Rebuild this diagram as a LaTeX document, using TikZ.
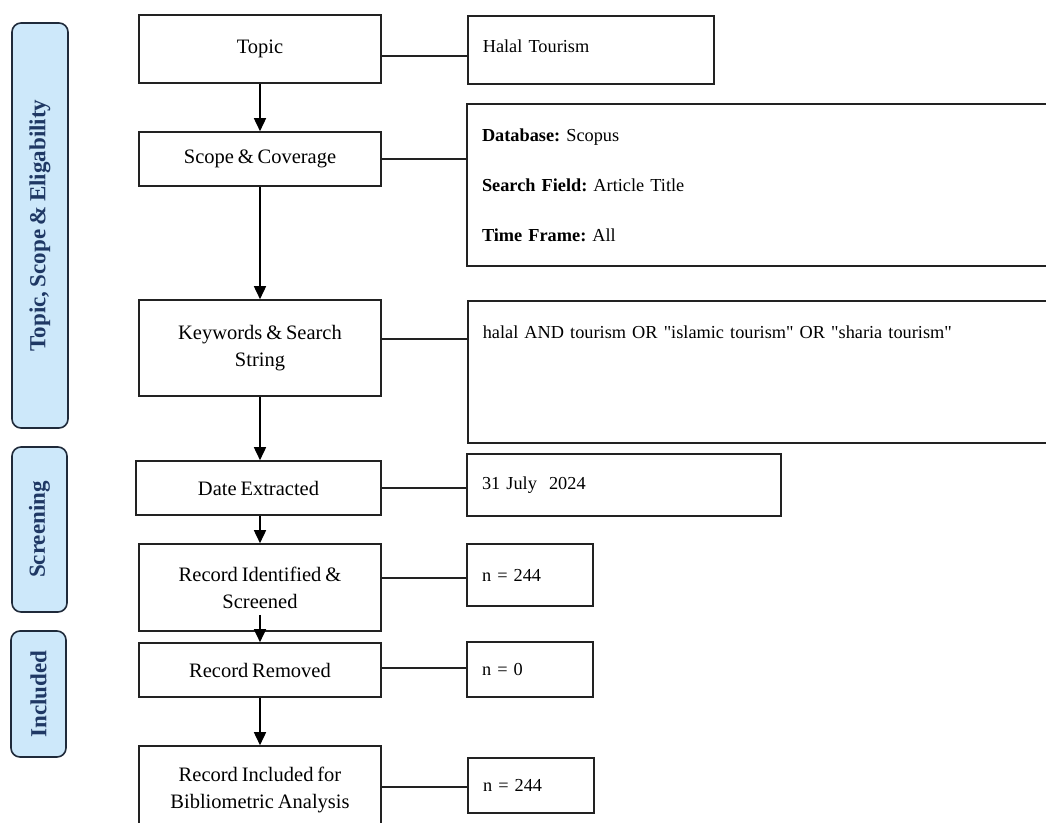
\documentclass[tikz,border=0pt]{standalone}
\usepackage{fontspec}
\setmainfont{Liberation Serif}[WordSpace=0.75]
\newfontfamily\plainquotes{Liberation Serif}[Ligatures=TeXOff, WordSpace=0.75]
\usetikzlibrary{arrows.meta}
\definecolor{sidefill}{HTML}{CDE8FA}
\definecolor{sidetext}{HTML}{1F3864}
\definecolor{sideline}{HTML}{1F2A3A}
\definecolor{boxline}{HTML}{222222}
\tikzset{
  leftbox/.style={draw=boxline, line width=1.6pt, rectangle, minimum width=242pt, align=center, inner sep=2pt, font=\fontsize{20.5}{27}\selectfont},
  rightbox/.style={draw=boxline, line width=1.6pt, rectangle, align=left, inner xsep=15pt, inner ysep=0pt, font=\fontsize{18.3}{22}\selectfont},
  sidebox/.style={draw=sideline, line width=1.6pt, fill=sidefill, rounded corners=9pt, rectangle, rotate=90, text=sidetext, font=\fontsize{23}{26}\selectfont\bfseries, inner sep=0pt},
  flowarrow/.style={line width=1.6pt, draw=black, -{Triangle[length=13pt,width=12pt]}},
  link/.style={line width=1.6pt, draw=boxline}
}
\begin{document}
\frenchspacing
\begin{tikzpicture}[x=1pt,y=-1pt]
\useasboundingbox (0,0) rectangle (1046,822);
\begin{scope}
\clip (0,0) rectangle (1046,822);
% side labels
\node[sidebox, minimum width=405pt, minimum height=56pt] (s1) at (40,225.5) {Topic, Scope \& Eligability};
\node[sidebox, minimum width=165pt, minimum height=55pt] (s2) at (39.5,529.5) {Screening};
\node[sidebox, minimum width=126pt, minimum height=55pt] (s3) at (38.5,694) {Included};
% left column
\node[leftbox, minimum height=68pt] (topic) at (260,49) {Topic};
\node[leftbox, minimum height=54pt] (scope) at (260,159) {Scope \& Coverage};
\node[leftbox, minimum height=96pt] (kw) at (260,348) {Keywords \& Search\\String};
\node[leftbox, minimum height=54pt, minimum width=245pt] (date) at (258.5,488) {Date Extracted};
\node[leftbox, minimum height=87pt] (ri) at (260,587.5) {Record Identified \&\\Screened};
\node[leftbox, minimum height=54pt] (rr) at (260,670) {Record Removed};
\node[leftbox, minimum height=88pt] (rin) at (260,790) {Record Included for\\Bibliometric Analysis};
% right column
\node[rightbox, anchor=north west, text width=216pt, text height=37pt, text depth=31pt] (halal) at (467,15) {Halal Tourism};
\node[rightbox, minimum width=593pt, minimum height=162pt, text width=563pt, font=\fontsize{18.3}{50}\selectfont] (scoper) at (763.5,185) {\textbf{Database:} Scopus\\\textbf{Search Field:} Article Title\\\textbf{Time Frame:} All};
\node[rightbox, anchor=north west, text width=563pt, text height=38pt, text depth=104pt, font=\plainquotes\fontsize{18.3}{22}\selectfont] (kwr) at (467,300) {halal AND tourism OR "islamic tourism" OR "sharia tourism"};
\node[rightbox, minimum width=314pt, minimum height=62pt, text width=284pt] (dater) at (624,485) {31 July\ \ 2024};
\node[rightbox, minimum width=126pt, minimum height=62pt, text width=96pt] (n1) at (530,575) {n = 244};
\node[rightbox, minimum width=126pt, minimum height=55pt, text width=96pt] (n0) at (530,669.5) {n = 0};
\node[rightbox, minimum width=126pt, minimum height=55pt, text width=96pt] (n2) at (531,785.5) {n = 244};
% arrows
\draw[flowarrow] (topic) -- (scope);
\draw[flowarrow] (scope) -- (kw);
\draw[flowarrow] (kw.south) -- (kw.south |- date.north);
\draw[flowarrow] (date.south -| ri.north) -- (ri.north);
\draw[flowarrow] ([yshift=17pt]ri.south) -- (rr.north);
\draw[flowarrow] (rr) -- (rin);
% links
\draw[link] ([yshift=-7pt]topic.east) -- ([yshift=-7pt]topic.east -| halal.west);
\draw[link] (scope.east) -- (scope.east -| scoper.west);
\draw[link] ([yshift=9pt]kw.east) -- ([yshift=9pt]kw.east -| kwr.west);
\draw[link] (date.east) -- (date.east -| dater.west);
\draw[link] ([yshift=9.5pt]ri.east) -- ([yshift=9.5pt]ri.east -| n1.west);
\draw[link] ([yshift=2pt]rr.east) -- ([yshift=2pt]rr.east -| n0.west);
\draw[link] ([yshift=3pt]rin.east) -- ([yshift=3pt]rin.east -| n2.west);
\end{scope}
\end{tikzpicture}
\end{document}
